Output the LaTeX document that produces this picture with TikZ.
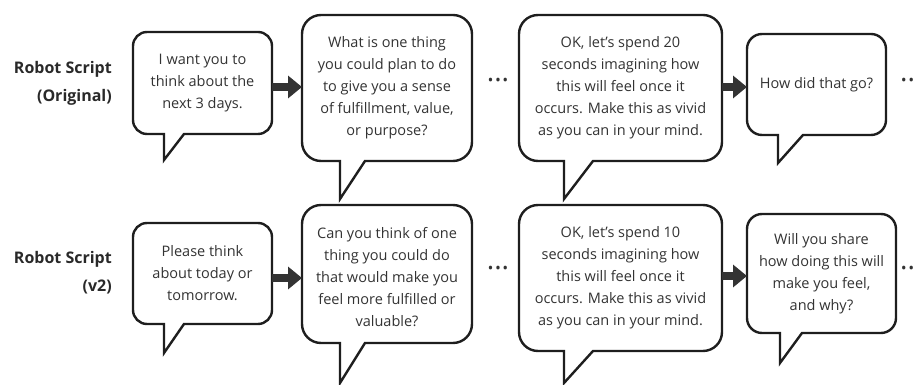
\documentclass[tikz,border=0pt]{standalone}
\usepackage{fontspec}
\setmainfont{Open Sans}
\usetikzlibrary{arrows.meta,calc}
\definecolor{linecol}{HTML}{1E1E1E}
\definecolor{txtcol}{HTML}{333333}
\definecolor{arrcol}{HTML}{333333}
\tikzset{
  bubbletext/.style={inner sep=0pt, outer sep=0pt, align=center, text=txtcol,
    font=\fontsize{14.5}{22}\selectfont},
  bubbleline/.style={draw=linecol, line width=2.4pt, line join=miter, fill=white},
  bigarrow/.style={draw=arrcol, line width=7.5pt, -{Triangle[width=22pt,length=14pt,fill=arrcol]}},
  rowlabel/.style={anchor=east, align=right, inner sep=0pt, text=txtcol!80!black,
    font=\fontsize{16}{28}\selectfont\bfseries},
  dotsnode/.style={inner sep=0pt, text=txtcol, font=\fontsize{28}{28}\selectfont}
}
\newcommand\apos{\char"0027\relax}
% #1 node, #2 tail left x, #3 tail tip y, #4 tail right x, #5 corner radius
\newcommand\bubbleshape[5]{%
  \draw[bubbleline] (#4,0 |- #1.south) -- (#2,#3) -- (#2,0 |- #1.south)
    -- ([xshift=#5pt]#1.south west) arc[start angle=270,end angle=180,radius=#5pt]
    -- ([yshift=-#5pt]#1.north west) arc[start angle=180,end angle=90,radius=#5pt]
    -- ([xshift=-#5pt]#1.north east) arc[start angle=90,end angle=0,radius=#5pt]
    -- ([yshift=#5pt]#1.south east) arc[start angle=0,end angle=-90,radius=#5pt]
    -- cycle;}
\begin{document}
\begin{tikzpicture}[x=1pt,y=1pt]
\useasboundingbox (0,0) rectangle (916,385);
% text holders (body rectangles)
\node[bubbletext, minimum width=139pt, minimum height=102pt] (b1) at (202.5,302) {};
\node[bubbletext, minimum width=170pt, minimum height=146pt] (b2) at (387,297) {};
\node[bubbletext, minimum width=203pt, minimum height=146pt] (b3) at (620.5,297) {};
\node[bubbletext, minimum width=139pt, minimum height=101pt] (b4) at (816.5,300.5) {};
\node[bubbletext, minimum width=139pt, minimum height=101pt] (b5) at (202.5,111.5) {};
\node[bubbletext, minimum width=170pt, minimum height=138pt] (b6) at (387,111) {};
\node[bubbletext, minimum width=203pt, minimum height=146pt] (b7) at (620.5,107) {};
\node[bubbletext, minimum width=149pt, minimum height=119pt] (b8) at (821.5,111.5) {};
% outlines
\bubbleshape{b1}{164}{225}{184}{14}
\bubbleshape{b2}{340}{186}{365}{19}
\bubbleshape{b3}{564}{186}{593}{19}
\bubbleshape{b4}{778}{222}{803}{15}
\bubbleshape{b5}{164}{32}{184}{14}
\bubbleshape{b6}{340}{2}{365}{19}
\bubbleshape{b7}{564}{2}{593}{19}
\bubbleshape{b8}{780}{22}{802}{15}
% texts
\node[bubbletext] (t1) at (b1) {I want you to\\think about the\\next 3 days.};
\node[bubbletext] (t2) at (b2) {What is one thing\\you could plan to do\\to give you a sense\\of fulfillment, value,\\or purpose?};
\node[bubbletext] (t3) at (b3) {OK, let\apos s spend 20\\seconds imagining how\\this will feel once it\\occurs. Make this as vivid\\as you can in your mind.};
\node[bubbletext] (t4) at (b4) {How did that go?};
\node[bubbletext] (t5) at (b5) {Please think\\about today or\\tomorrow.};
\node[bubbletext] (t6) at ([yshift=-3pt]b6.center) {Can you think of one\\thing you could do\\that would make you\\feel more fulfilled or\\valuable?};
\node[bubbletext] (t7) at (b7) {OK, let\apos s spend 10\\seconds imagining how\\this will feel once it\\occurs. Make this as vivid\\as you can in your mind.};
\node[bubbletext] (t8) at (b8) {Will you share\\how doing this will\\make you feel,\\and why?};
% row labels
\node[rowlabel] (l1) at (112,302) {Robot Script\\(Original)};
\node[rowlabel] (l2) at (112,112.5) {Robot Script\\(v2)};
% dots
\node[dotsnode] (d1) at (498,305) {...};
\node[dotsnode] (d2) at (907.5,305) {..};
\node[dotsnode] (d3) at (498,117) {...};
\node[dotsnode] (d4) at (907.5,117) {..};
% arrows
\coordinate (a1) at ([yshift=-4pt]b1.east);
\coordinate (a2) at ([yshift=1pt]b3.east);
\coordinate (a3) at ([yshift=-4.5pt]b5.east);
\coordinate (a4) at ([yshift=2pt]b7.east);
\draw[bigarrow] (a1) -- (a1 -| b2.west);
\draw[bigarrow] (a2) -- (a2 -| b4.west);
\draw[bigarrow] (a3) -- (a3 -| b6.west);
\draw[bigarrow] (a4) -- (a4 -| b8.west);
\end{tikzpicture}
\end{document}
